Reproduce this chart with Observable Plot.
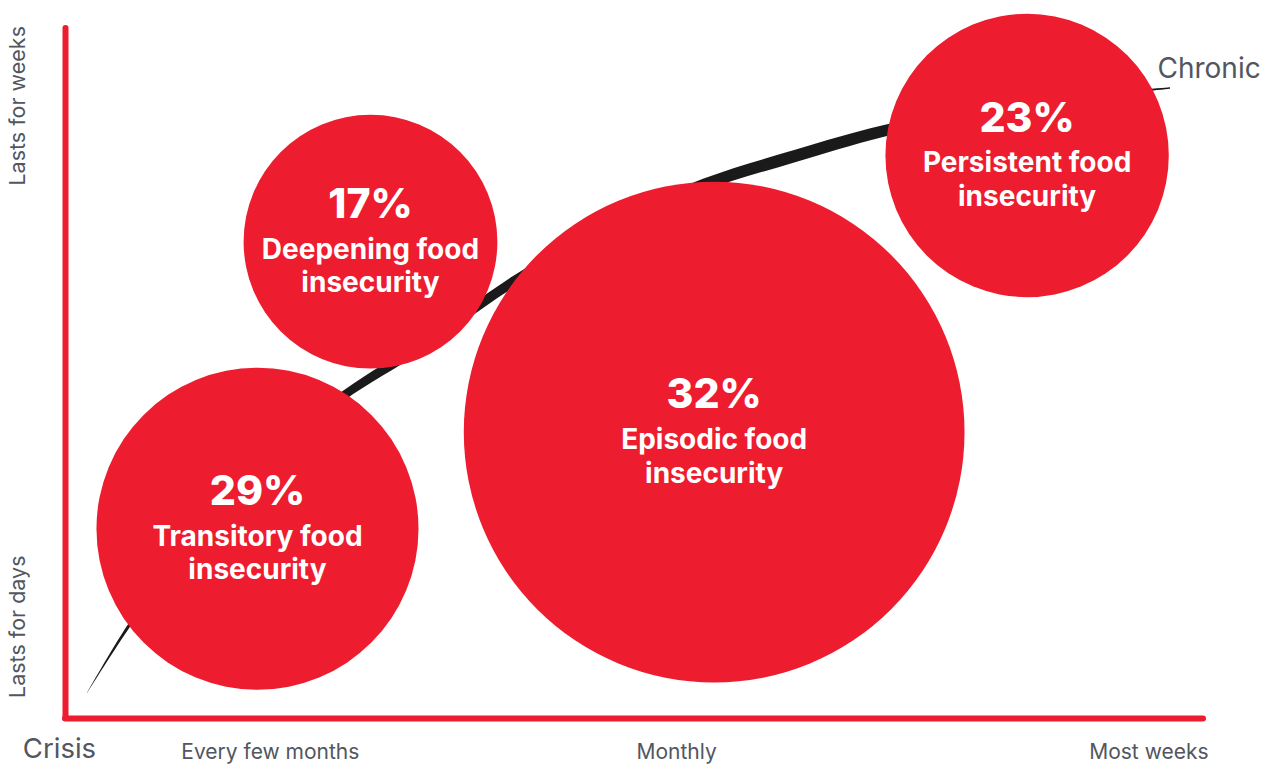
<!DOCTYPE html>
<html><head><meta charset="utf-8">
<script src="https://cdn.jsdelivr.net/npm/d3@7"></script>
<script src="https://cdn.jsdelivr.net/npm/@observablehq/plot@0.6"></script>
<style>html,body{margin:0;padding:0;background:#fff;} #chart svg{display:block;}</style>
</head><body><div id="chart"></div>
<script>
// Bubble data (frequency on x: 0 = crisis … 100 = most weeks; duration on y: 0 = days … 100 = weeks)
const categories = ["Transitory food\ninsecurity", "Deepening food\ninsecurity", "Episodic food\ninsecurity", "Persistent food\ninsecurity"];
const shares = [29, 17, 32, 23];
const frequency = [16.87, 26.8, 57.0, 84.5];
const duration = [27.5, 69.1, 41.5, 81.6];
const bubbleSize = [14.15, 11.15, 22.0, 12.45];

// Trajectory curve from crisis to chronic
const curveFreq = [1.93, 5.54, 14.06, 24.43, 31.20, 39.37, 47.89, 56.06, 64.15, 71.88, 82.16, 90.07, 97.10];
const curveDur  = [3.62, 13.19, 32.75, 46.67, 53.77, 63.19, 71.30, 77.25, 81.45, 85.07, 88.41, 90.14, 91.30];
const curveHalf = [0.04, 0.4, 0.65, 0.75, 0.8, 0.85, 0.88, 0.9, 0.9, 0.85, 0.5, 0.25, 0.1];
const endLabel = "Chronic";

// Axis labels
const originLabel = "Crisis";
const xTickLabels = ["Every few months", "Monthly", "Most weeks"];
const xTickPos = [18.0, 53.7, 95.2];
const yTickLabels = ["Lasts for days", "Lasts for weeks"];
const yTickPos = [13.3, 88.8];

const red = "#ED1C2E";
const gray = "#52565f";

const bubbles = categories.map((c, i) => ({label: c, pct: shares[i] + "%", x: frequency[i], y: duration[i], s: bubbleSize[i]}));
const curve = curveFreq.map((x, i) => ({x, y1: curveDur[i] - curveHalf[i], y2: curveDur[i] + curveHalf[i]}));
const n = curveFreq.length - 1;

const chart = Plot.plot({
  width: 1272, height: 765,
  marginLeft: 65, marginRight: 69, marginTop: 28, marginBottom: 47,
  x: {domain: [0, 100], axis: null},
  y: {domain: [0, 100], axis: null},
  r: {type: "linear", domain: [0, 100], range: [0, 1138]},
  style: {fontFamily: "Inter, 'Open Sans', sans-serif", background: "#fff", overflow: "visible"},
  marks: [
    Plot.ruleX([0], {stroke: red, strokeWidth: 6, strokeLinecap: "round"}),
    Plot.ruleY([0], {stroke: red, strokeWidth: 6, strokeLinecap: "round"}),
    Plot.areaY(curve, {x: "x", y1: "y1", y2: "y2", fill: "#1a1a1a", curve: "catmull-rom"}),
    Plot.dot(bubbles, {x: "x", y: "y", r: "s", fill: red, stroke: null}),
    Plot.text(bubbles, {x: "x", y: "y", text: "pct", fill: "white", fontSize: 41, fontWeight: 800, dy: -37}),
    Plot.text(bubbles, {x: "x", y: "y", text: "label", fill: "white", fontSize: 28, fontWeight: 700, lineAnchor: "top", lineHeight: 1.2, dy: -7}),
    Plot.text([endLabel], {x: () => curveFreq[n], y: () => curveDur[n], text: d => d, textAnchor: "start", dx: -13, dy: -19, fontSize: 28, fill: gray}),
    Plot.text(xTickLabels, {x: (d, i) => xTickPos[i], frameAnchor: "bottom", text: d => d, dy: 40, fontSize: 21, fill: gray}),
    Plot.text([originLabel], {x: () => -0.53, frameAnchor: "bottom", text: d => d, dy: 39, fontSize: 27.5, fill: gray}),
    Plot.text(yTickLabels, {y: (d, i) => yTickPos[i], frameAnchor: "left", textAnchor: "middle", text: d => d, dx: -47, rotate: -90, fontSize: 21.5, fill: gray})
  ]
});
document.getElementById("chart").appendChild(chart);
</script>
</body></html>
